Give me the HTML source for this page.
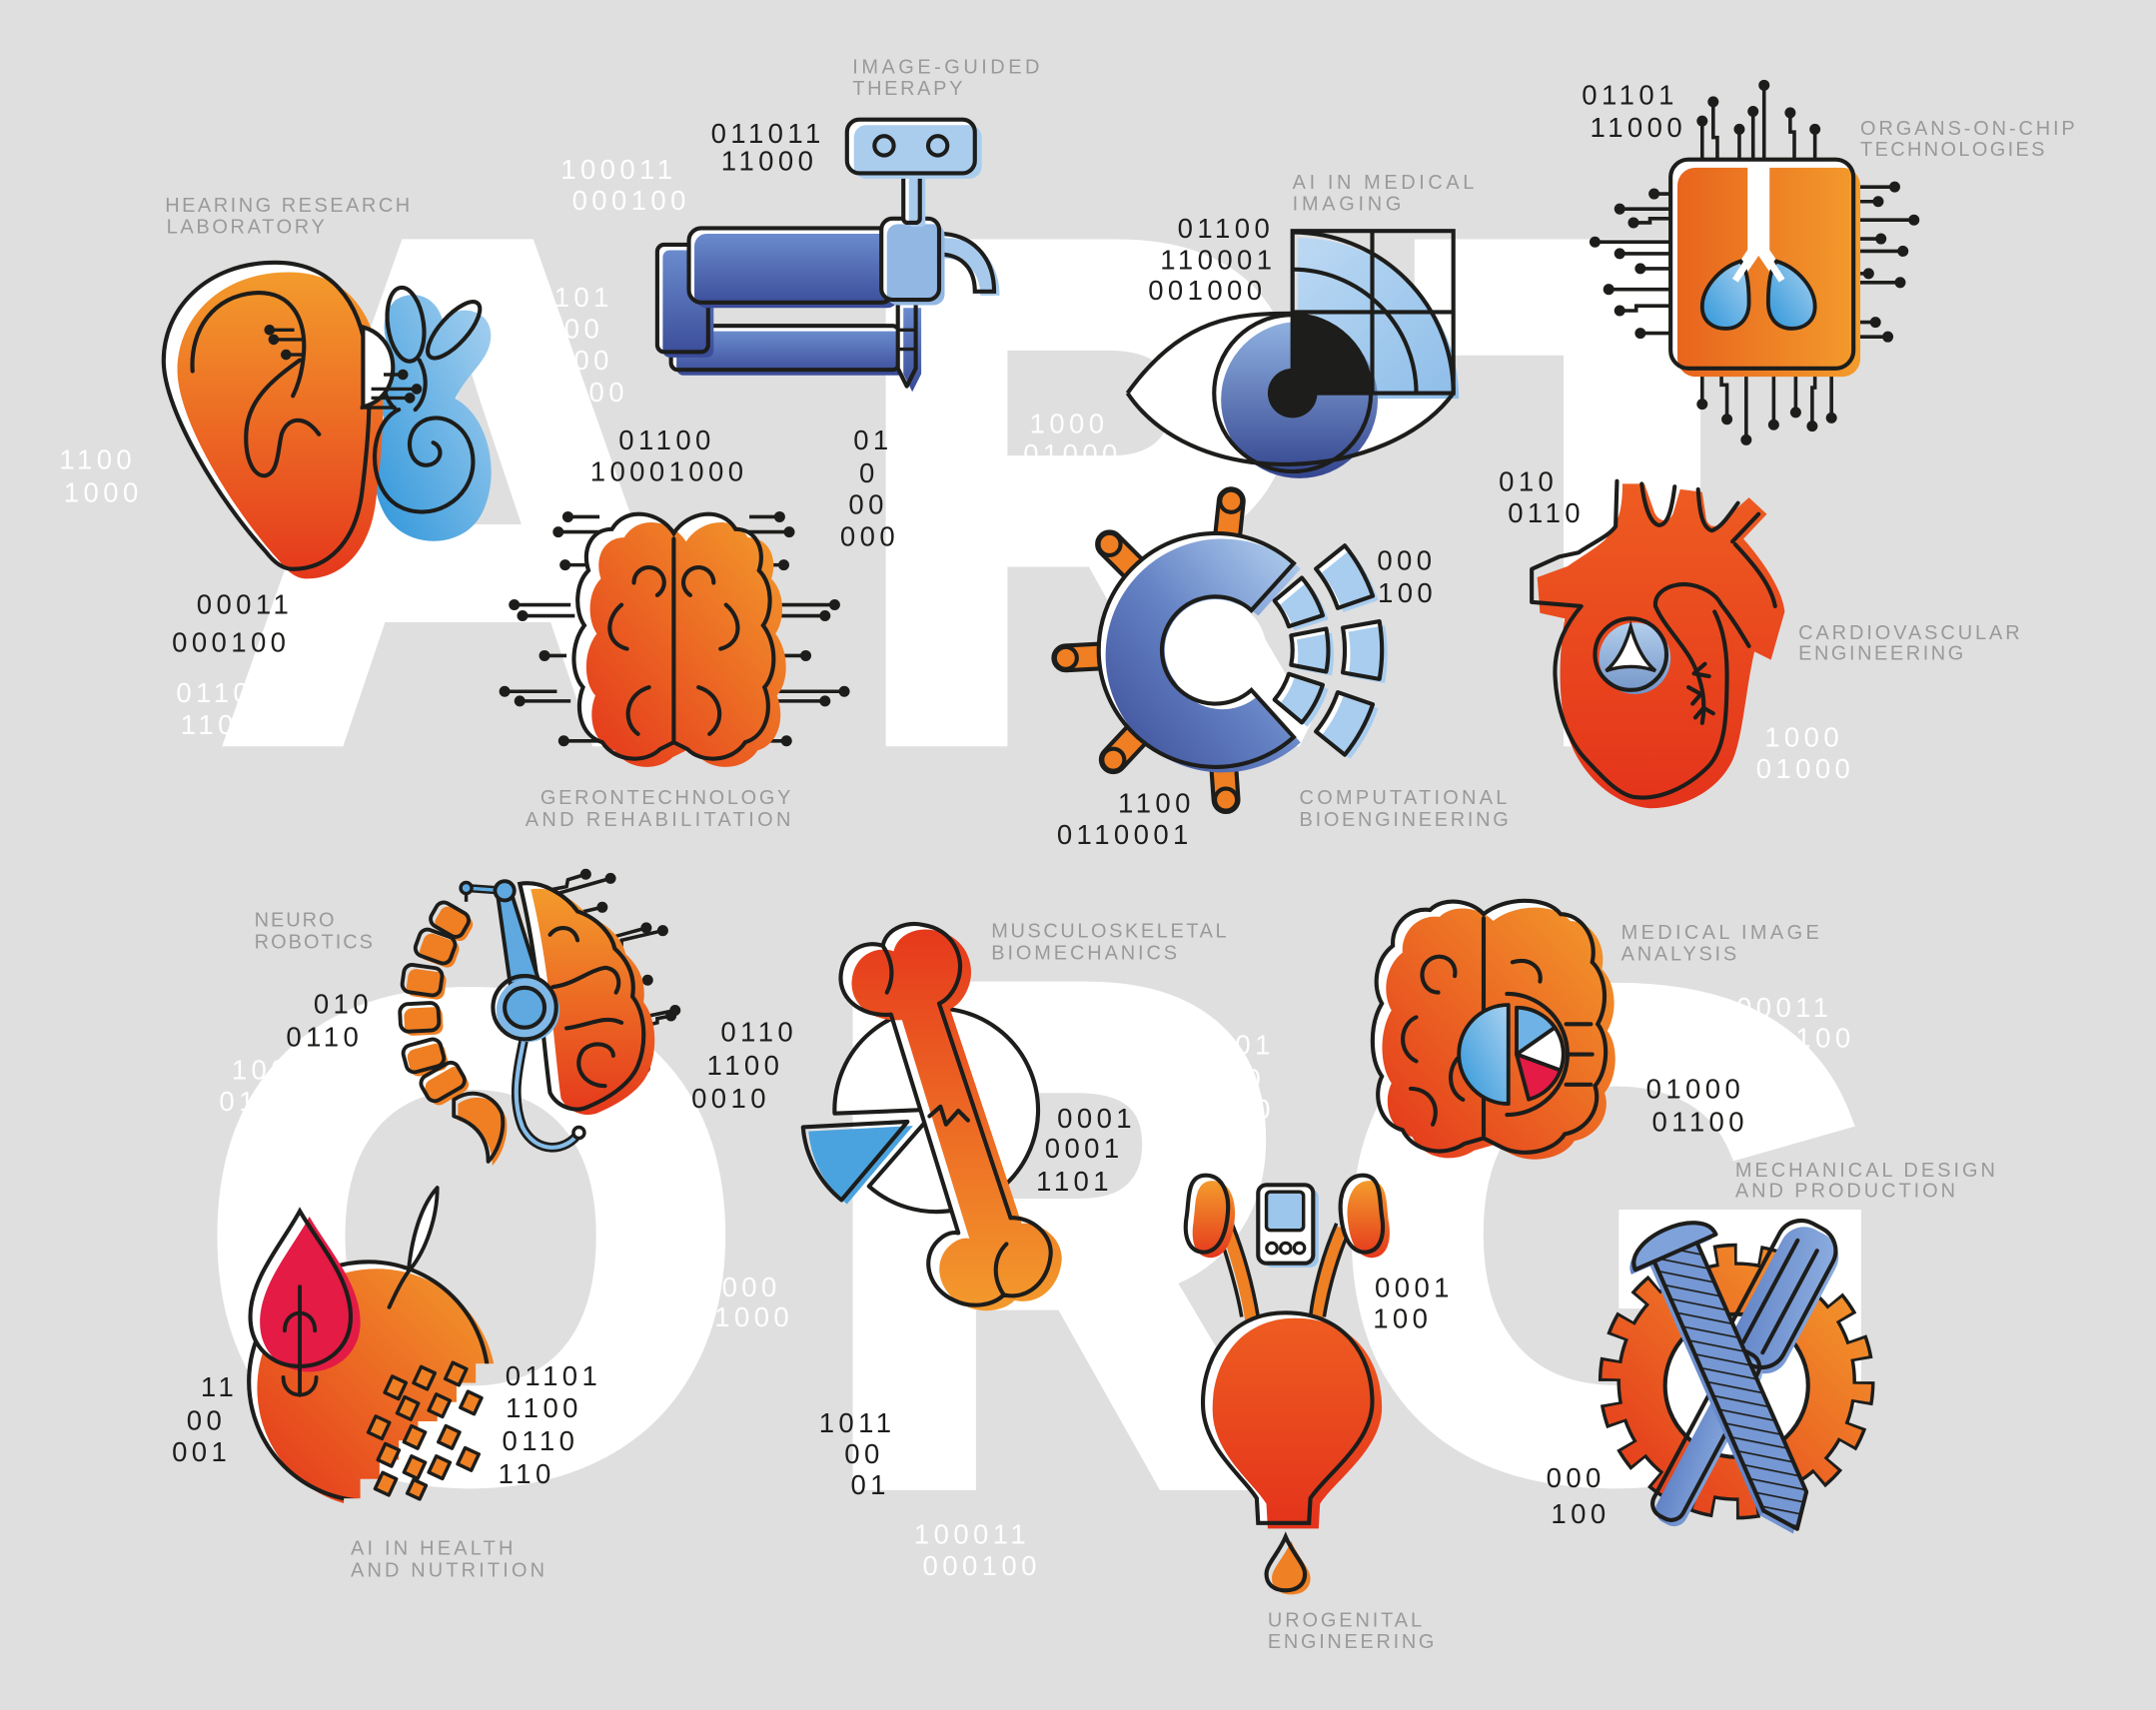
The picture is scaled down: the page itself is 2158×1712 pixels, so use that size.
<!DOCTYPE html>
<html><head><meta charset="utf-8">
<style>
html,body{margin:0;padding:0;background:#dfdfdf;}
svg{display:block}
.lb{font-family:"Liberation Sans",sans-serif;font-size:14.5px;fill:#9a9a9a;}
.d{font-family:"Liberation Sans",sans-serif;font-size:20px;fill:#1d1d1b;letter-spacing:3.2px;text-anchor:middle;}
.w{font-family:"Liberation Sans",sans-serif;font-size:20px;fill:#ffffff;letter-spacing:3.2px;text-anchor:middle;}
.e{text-anchor:end;}
</style></head>
<body>
<svg width="2158" height="1712" viewBox="0 0 1568 1244" xmlns="http://www.w3.org/2000/svg">
<defs>
<linearGradient id="gOr" x1="0" y1="0" x2="0" y2="1"><stop offset="0" stop-color="#f39b2c"/><stop offset="1" stop-color="#e5381c"/></linearGradient>
<linearGradient id="gOrD" x1="1" y1="0" x2="0" y2="1"><stop offset="0" stop-color="#f39b2c"/><stop offset="1" stop-color="#e4351b"/></linearGradient>
<linearGradient id="gOrH" x1="0" y1="0" x2="1" y2="0"><stop offset="0" stop-color="#e8641d"/><stop offset="1" stop-color="#f39c2c"/></linearGradient>
<linearGradient id="gRed" x1="0" y1="0" x2="0" y2="1"><stop offset="0" stop-color="#ee5c21"/><stop offset="1" stop-color="#e4331b"/></linearGradient>
<linearGradient id="gBone" x1="0" y1="0" x2="0" y2="1"><stop offset="0" stop-color="#e6391c"/><stop offset="1" stop-color="#f39a2c"/></linearGradient>
<linearGradient id="gDB" x1="0" y1="0" x2="0" y2="1"><stop offset="0" stop-color="#6a8bcd"/><stop offset="1" stop-color="#3a4b98"/></linearGradient>
<linearGradient id="gDBd" x1="1" y1="0" x2="0" y2="1"><stop offset="0" stop-color="#b5d3f1"/><stop offset="0.5" stop-color="#6482c4"/><stop offset="1" stop-color="#3a4a95"/></linearGradient>
<linearGradient id="gIris" x1="0" y1="0" x2="0" y2="1"><stop offset="0" stop-color="#8fb0e0"/><stop offset="1" stop-color="#34458f"/></linearGradient>
<linearGradient id="gValve" x1="0" y1="0" x2="0" y2="1"><stop offset="0" stop-color="#b3cfec"/><stop offset="1" stop-color="#7394c8"/></linearGradient>
<linearGradient id="gLB" x1="0" y1="0" x2="1" y2="1"><stop offset="0" stop-color="#bcd9f3"/><stop offset="1" stop-color="#8dbde9"/></linearGradient>
<linearGradient id="gCy" x1="0" y1="1" x2="1" y2="0"><stop offset="0" stop-color="#2f96da"/><stop offset="1" stop-color="#a8d1f0"/></linearGradient>
<linearGradient id="gTool" x1="0" y1="0" x2="1" y2="1"><stop offset="0" stop-color="#8fb1e2"/><stop offset="1" stop-color="#5f80c4"/></linearGradient>
<pattern id="hatch" width="9" height="9" patternUnits="userSpaceOnUse" patternTransform="rotate(35)">
<rect width="9" height="9" fill="#7597d3"/><line x1="0" y1="0" x2="0" y2="9" stroke="#1d1d1b" stroke-width="2.4"/></pattern>
<clipPath id="appleClip"><polygon points="150,850 380,850 380,992 346,992 346,1006 332,1006 332,1020 318,1020 318,1034 304,1034 304,1048 290,1048 290,1062 276,1062 276,1076 262,1076 262,1090 250,1090 250,1110 150,1110"/></clipPath>

<path id="ear" d="M200,191 C150,191 118,225 119,264 C120,300 160,365 193,401 C200,410 206,414 213,414 C238,414 258,395 263,360 C268,320 270,290 267,261 C262,218 240,191 200,191 Z"/>
<path id="br1" d="M490,388 C480,372 455,368 445,385 C430,385 423,400 428,415 C418,425 418,445 425,455 C415,468 415,490 424,500 C418,515 422,535 438,540 C448,555 470,555 480,545 L490,540 L500,545 C510,555 532,555 542,540 C558,535 562,515 556,500 C565,490 565,468 555,455 C562,445 562,425 552,415 C557,400 550,385 535,385 C525,368 500,372 490,388 Z"/>
<rect id="dv1" x="488" y="237" width="166" height="32" rx="5"/>
<polygon id="dv4" points="653,220 666,220 666,268 659.5,281 653,268"/>
<rect id="dv2" x="478" y="178" width="37" height="78" rx="5"/>
<rect id="dv3" x="501" y="166" width="149" height="54" rx="9"/>
<rect id="dv5" x="641" y="159" width="42" height="59" rx="8"/>
<path id="dv6" d="M683,170 C706,170 723,186 723,212 L709,212 C709,195 699,185 683,185 Z"/>
<rect id="dv7" x="657" y="125" width="12" height="37" rx="3"/>
<rect id="dv8" x="616" y="87" width="93" height="39" rx="9"/>
<rect id="chip" x="1215" y="116" width="133" height="152" rx="13"/>
<path id="heart" d="M1180,352 L1196,352 L1203,372 C1206,380 1214,381 1217,373 L1222,356 L1238,358 L1241,378 C1244,386 1252,383 1256,376 L1272,362 L1285,374 L1268,392 C1282,408 1296,428 1298,445 L1288,480 L1276,474 C1270,500 1268,530 1262,548 C1255,570 1230,588 1200,588 C1175,586 1152,566 1142,540 C1133,515 1133,480 1138,450 L1120,446 L1118,420 L1140,412 C1150,405 1162,398 1168,392 C1178,380 1180,368 1180,352 Z"/>
<path id="cring" d="M940.9,409.8 A85,85 0 1 0 940.9,536.2 L910.1,502 A39,39 0 1 1 910.1,444 Z"/>
<g id="segs">
<path d="M946.8,420.3 A82,82 0 0 1 962,447.7 L937.3,455.7 A56,56 0 0 0 926.9,437 Z"/>
<path d="M964.5,457.4 A82,82 0 0 1 964.5,488.6 L939,483.7 A56,56 0 0 0 939,462.3 Z"/>
<path d="M962,498.3 A82,82 0 0 1 946.8,525.7 L926.9,509 A56,56 0 0 0 937.3,490.3 Z"/>
<path d="M978,396.9 A121,121 0 0 1 998.4,433.6 L972.9,442.4 A94,94 0 0 0 957,413.8 Z"/>
<path d="M1003.2,452 A121,121 0 0 1 1003.2,494 L976.6,489.3 A94,94 0 0 0 976.6,456.7 Z"/>
<path d="M998.4,512.4 A121,121 0 0 1 978,549.1 L957,532.2 A94,94 0 0 0 972.9,503.6 Z"/>
</g>
<path id="nbrain" d="M378,643 C395,640 412,652 420,663 C435,668 445,680 447,690 C458,700 462,712 460,725 C470,738 470,760 464,775 C458,790 440,800 428,805 C418,810 405,805 400,795 C395,760 392,700 378,643 Z"/>
<path id="bone" d="M648,738 C625,740 608,725 612,706 C615,690 630,684 642,688 C645,675 660,670 672,673 C692,676 702,695 697,712 C694,722 688,728 683,730 L735,886 C750,885 766,898 764,914 C762,932 748,946 730,942 C722,950 706,952 694,946 C676,938 670,918 680,905 C686,898 692,896 697,897 Z"/>
<path id="mbrain" d="M1079,665 C1070,655 1050,652 1040,662 C1025,660 1012,672 1013,688 C1000,698 998,718 1005,730 C996,745 996,770 1005,783 C998,798 1004,818 1020,822 C1028,838 1050,842 1065,832 L1079,828 L1093,835 C1108,842 1130,838 1138,825 C1155,822 1165,805 1160,790 C1170,778 1170,755 1162,745 C1170,730 1168,710 1158,700 C1162,682 1150,665 1135,665 C1125,652 1095,652 1079,665 Z"/>
<path id="drop" d="M218,881 C205,905 182,930 182,958 C182,980 198,994 218,994 C238,994 255,980 255,958 C255,930 232,905 218,881 Z"/>
<path id="kidL" d="M877,855 C890,855 894,870 893,882 C892,895 888,910 876,911 C863,911 861,897 863,885 C865,872 863,855 877,855 Z"/>
<path id="kidR" d="M991,855 C978,855 974,870 975,882 C976,895 980,910 992,911 C1005,911 1007,897 1005,885 C1003,872 1005,855 991,855 Z"/>
<path id="blad" d="M935,955 C893,955 873,990 875,1025 C877,1055 905,1075 914,1090 L915,1108 L952,1108 L953,1090 C965,1072 998,1050 998,1020 C998,985 977,955 935,955 Z"/>
<path id="udrop" d="M935,1118 C930,1130 921,1138 921,1145 C921,1153 927,1157 935,1157 C943,1157 949,1153 949,1145 C949,1138 940,1130 935,1118 Z"/>
</defs>

<rect width="1568" height="1244" fill="#dfdfdf"/>

<!-- big letters -->
<g font-family="Liberation Sans, sans-serif" font-weight="bold" font-size="1000" fill="#ffffff" stroke="#ffffff" stroke-linejoin="miter" stroke-miterlimit="2">
<text transform="translate(159.7,535.3) scale(0.5,0.514)" stroke-width="30">A</text>
<text transform="translate(625.1,530.5) scale(0.456,0.5)" stroke-width="50">R</text>
<text transform="translate(1037.9,528.2) scale(0.488,0.4933)" stroke-width="60">T</text>
<text transform="translate(147.4,1068.4) scale(0.503,0.488)" stroke-width="40">O</text>
<text transform="translate(600.8,1071.5) scale(0.462,0.5014)" stroke-width="50">R</text>
<text transform="translate(972,1068.3) scale(0.5186,0.492)" stroke-width="40">G</text>
</g>

<!-- white digits -->
<g>
<text class="w" x="450" y="130">100011</text>
<text class="w" x="459" y="152.7">000100</text>
<text class="w e" x="446" y="223">01101</text>
<text class="w e" x="439" y="246">000</text>
<text class="w e" x="446" y="269">000</text>
<text class="w e" x="457" y="292">000</text>
<text class="w" x="71" y="341">1100</text>
<text class="w" x="75" y="365">1000</text>
<text class="w" x="156" y="511">0110</text>
<text class="w" x="152" y="534">110</text>
<text class="w" x="777.5" y="315">1000</text>
<text class="w" x="780" y="337">01000</text>
<text class="w" x="1312" y="543">1000</text>
<text class="w" x="1313" y="566">01000</text>
<text class="w" x="197" y="785">1000</text>
<text class="w" x="188" y="808">0100</text>
<text class="w e" x="927" y="767">01101</text>
<text class="w e" x="920" y="791.5">000</text>
<text class="w e" x="927" y="814">00</text>
<text class="w e" x="1333" y="739.6">100011</text>
<text class="w e" x="1349" y="762">000100</text>
<text class="w e" x="568" y="943">1000</text>
<text class="w e" x="577" y="965">01000</text>
<text class="w" x="707" y="1123">100011</text>
<text class="w" x="714" y="1146">000100</text>
</g>

<!-- ===== EAR ===== -->
<path d="M283,214 C298,205 314,214 317,230 C326,216 352,220 352,240 C352,258 334,268 326,286 C352,300 360,345 344,372 C330,395 292,396 276,372 C262,350 266,318 274,300 C268,282 268,258 276,244 C272,232 276,220 283,214 Z" fill="url(#gCy)" transform="translate(5,4)"/>
<use href="#ear" fill="#ffffff"/>
<use href="#ear" fill="url(#gOr)" x="10" y="7"/>
<g fill="none" stroke="#1d1d1b" stroke-width="3" stroke-linecap="round">
<use href="#ear"/>
<path d="M140,270 C138,240 155,215 186,213 C212,212 222,232 221,255 C220,272 216,282 213,288"/>
<path d="M218,262 C200,275 180,290 179,315 C178,335 185,347 193,346 C203,344 202,325 205,315 C210,303 222,302 232,316"/>
<ellipse cx="295" cy="236" rx="13" ry="27" transform="rotate(-8 295 236)"/>
<ellipse cx="330" cy="240" rx="10" ry="26" transform="rotate(42 330 240)"/>
<path d="M283,258 C276,272 278,290 288,298"/>
<path d="M305,262 C312,275 310,290 302,298"/>
<path d="M290,298 C268,308 266,352 288,367 C312,382 344,364 344,336 C344,310 320,297 305,308 C292,318 298,342 313,338 C322,335 322,325 315,322"/>
</g>
<path d="M264,238 C293,246 293,289 264,296 Z" fill="#ffffff" stroke="#1d1d1b" stroke-width="3"/>
<g stroke="#1d1d1b" stroke-width="2.5" fill="#1d1d1b">
<path d="M196,240 L214,240 M199,247 L222,247 M208,258 L222,258 M279,272.5 L293,272.5 M270,283 L303,283 M270,289.5 L298,289.5 M262,296.5 L288,296.5" fill="none"/>
<circle cx="196" cy="240" r="2.6"/><circle cx="199" cy="247" r="2.6"/><circle cx="208" cy="258" r="2.6"/>
<circle cx="293" cy="272.5" r="2.6"/><circle cx="303" cy="283" r="2.6"/><circle cx="298" cy="289.5" r="2.6"/>
</g>

<!-- ===== GERONTECH BRAIN ===== -->
<g stroke="#1d1d1b" stroke-width="2.6" fill="#1d1d1b">
<path fill="none" d="M413,376 L436,376 M406,387 L447,387 M411,411 L429,411 M374,440 L415,440 M380,448 L418,448 M396,477 L412,477 M367,503 L405,503 M378,510 L415,510 M410,539 L441,539 M545,376 L567,376 M535,387 L574,387 M546,411 L570,411 M566,440 L607,440 M566,448 L600,448 M570,477 L586,477 M566,503 L614,503 M566,510 L600,510 M538,539 L572,539"/>
<circle cx="413" cy="376" r="2.7"/><circle cx="406" cy="387" r="2.7"/><circle cx="411" cy="411" r="2.7"/><circle cx="374" cy="440" r="2.7"/><circle cx="380" cy="448" r="2.7"/><circle cx="396" cy="477" r="2.7"/><circle cx="367" cy="503" r="2.7"/><circle cx="378" cy="510" r="2.7"/><circle cx="410" cy="539" r="2.7"/>
<circle cx="567" cy="376" r="2.7"/><circle cx="574" cy="387" r="2.7"/><circle cx="570" cy="411" r="2.7"/><circle cx="607" cy="440" r="2.7"/><circle cx="600" cy="448" r="2.7"/><circle cx="586" cy="477" r="2.7"/><circle cx="614" cy="503" r="2.7"/><circle cx="600" cy="510" r="2.7"/><circle cx="572" cy="539" r="2.7"/>
</g>
<use href="#br1" fill="#ffffff"/>
<use href="#br1" fill="url(#gOrD)" x="9" y="6"/>
<g fill="none" stroke="#1d1d1b" stroke-width="3" stroke-linecap="round">
<use href="#br1"/>
<path d="M490,392 L490,540"/>
<path d="M478,433 A11,11 0 1 0 461,424"/>
<path d="M502,433 A11,11 0 1 1 519,424"/>
<path d="M452,440 C440,450 440,468 456,472"/>
<path d="M528,440 C540,450 540,468 524,472"/>
<path d="M472,500 C455,505 452,525 464,534"/>
<path d="M508,500 C525,505 528,525 516,534"/>
</g>

<!-- ===== DEVICE ===== -->
<use href="#dv1" fill="#ffffff"/><use href="#dv1" fill="url(#gDB)" x="4" y="4"/><use href="#dv1" fill="none" stroke="#1d1d1b" stroke-width="3"/>
<use href="#dv4" fill="#ffffff"/><use href="#dv4" fill="url(#gDB)" x="4" y="4"/><use href="#dv4" fill="none" stroke="#1d1d1b" stroke-width="3" stroke-linejoin="round"/>
<path d="M653,240 L666,240 M653,254 L666,254" stroke="#1d1d1b" stroke-width="2.5"/>
<use href="#dv2" fill="#ffffff"/><use href="#dv2" fill="url(#gDB)" x="4" y="4"/><use href="#dv2" fill="none" stroke="#1d1d1b" stroke-width="3"/>
<use href="#dv3" fill="#ffffff"/><use href="#dv3" fill="url(#gDB)" x="4" y="4"/><use href="#dv3" fill="none" stroke="#1d1d1b" stroke-width="3"/>
<use href="#dv6" fill="#ffffff"/><use href="#dv6" fill="#a7caec" x="4" y="3"/><use href="#dv6" fill="none" stroke="#1d1d1b" stroke-width="3"/>
<use href="#dv5" fill="#ffffff"/><use href="#dv5" fill="#93b7e3" x="4" y="4"/><use href="#dv5" fill="none" stroke="#1d1d1b" stroke-width="3"/>
<use href="#dv7" fill="#ffffff"/><use href="#dv7" fill="#a7caec" x="4" y="3"/><use href="#dv7" fill="none" stroke="#1d1d1b" stroke-width="3"/>
<use href="#dv8" fill="#ffffff"/><use href="#dv8" fill="#aacdee" x="5" y="4"/><use href="#dv8" fill="none" stroke="#1d1d1b" stroke-width="3"/>
<circle cx="643" cy="106" r="7" fill="none" stroke="#1d1d1b" stroke-width="3"/>
<circle cx="682" cy="106" r="7" fill="none" stroke="#1d1d1b" stroke-width="3"/>

<!-- ===== EYE ===== -->
<path d="M820,286 C860,230 900,228 940,228 L940,286 L1057,286 C1010,350 870,360 820,286 Z" fill="#ffffff"/>
<path d="M940,286 L940,169 A117,117 0 0 1 1057,286 Z" fill="url(#gLB)" transform="translate(4,4)"/>
<circle cx="945" cy="291" r="57" fill="url(#gIris)"/>
<g fill="none" stroke="#1d1d1b" stroke-width="3">
<rect x="940" y="168" width="117" height="118"/>
<path d="M998,168 L998,286 M940,227 L1057,227"/>
<path d="M940,169 A117,117 0 0 1 1057,286"/>
<path d="M940,196 A90,90 0 0 1 1030,286"/>
<circle cx="940" cy="286" r="57"/>
<path d="M820,286 C860,230 900,228 940,228"/>
<path d="M820,286 C870,360 1010,350 1057,286"/>
</g>
<path d="M940,286 L940,228 A58,58 0 0 1 998,286 Z" fill="#1d1d1b"/>
<circle cx="940" cy="286" r="18" fill="#1d1d1b"/>

<!-- ===== CHIP ===== -->
<g stroke="#1d1d1b" stroke-width="2.6" fill="#1d1d1b">
<path fill="none" d="M1238,117 V88 M1249,117 V100 H1246 V74 M1265,117 V94 M1275,117 V81 M1283,117 V62 M1305,117 V96 H1302 V82 M1320,117 V94 M1238,268 V294 M1252,268 V280 H1256 V305 M1270,268 V320 M1290,268 V309 M1306,268 V300 M1320,268 V282 H1318 V310 M1332,268 V304 M1215,141 H1203 M1215,152 H1178 M1215,159 H1200 V162 H1188 M1215,176 H1160 M1215,184.5 H1178 M1215,195.4 H1193 M1215,210.5 H1170 M1215,222.5 H1190 V226 H1178 M1215,242.4 H1193 M1348,136 H1378 M1348,146.6 H1366 M1348,160 H1392 M1348,173.7 H1368 M1348,182.7 H1384 M1348,199 H1359 M1348,205.5 H1382 M1348,234.4 H1364 M1348,245 H1373"/>
<circle cx="1238" cy="88" r="2.7"/><circle cx="1246" cy="74" r="2.7"/><circle cx="1265" cy="94" r="2.7"/><circle cx="1275" cy="81" r="2.7"/><circle cx="1283" cy="62" r="2.7"/><circle cx="1302" cy="82" r="2.7"/><circle cx="1320" cy="94" r="2.7"/>
<circle cx="1238" cy="294" r="2.7"/><circle cx="1256" cy="305" r="2.7"/><circle cx="1270" cy="320" r="2.7"/><circle cx="1290" cy="309" r="2.7"/><circle cx="1306" cy="300" r="2.7"/><circle cx="1318" cy="310" r="2.7"/><circle cx="1332" cy="304" r="2.7"/>
<circle cx="1203" cy="141" r="2.7"/><circle cx="1178" cy="152" r="2.7"/><circle cx="1188" cy="162" r="2.7"/><circle cx="1160" cy="176" r="2.7"/><circle cx="1178" cy="184.5" r="2.7"/><circle cx="1193" cy="195.4" r="2.7"/><circle cx="1170" cy="210.5" r="2.7"/><circle cx="1178" cy="226" r="2.7"/><circle cx="1193" cy="242.4" r="2.7"/>
<circle cx="1378" cy="136" r="2.7"/><circle cx="1366" cy="146.6" r="2.7"/><circle cx="1392" cy="160" r="2.7"/><circle cx="1368" cy="173.7" r="2.7"/><circle cx="1384" cy="182.7" r="2.7"/><circle cx="1359" cy="199" r="2.7"/><circle cx="1382" cy="205.5" r="2.7"/><circle cx="1364" cy="234.4" r="2.7"/><circle cx="1373" cy="245" r="2.7"/>
</g>
<use href="#chip" fill="#ffffff"/>
<use href="#chip" fill="url(#gOrH)" x="5" y="6"/>
<use href="#chip" fill="none" stroke="#1d1d1b" stroke-width="3"/>
<rect x="1271" y="119" width="16" height="64" fill="#ffffff"/>
<path d="M1279,178 L1260,206 M1279,178 L1298,206" stroke="#ffffff" stroke-width="9" fill="none"/>
<g stroke="#1d1d1b" stroke-width="2.8">
<path d="M1266,190 C1250,195 1238,210 1238,223 C1238,234 1246,239 1255,239 C1265,239 1272,232 1272,220 C1272,205 1270,195 1266,190 Z" fill="url(#gCy)"/>
<path d="M1292,190 C1308,195 1320,210 1320,223 C1320,234 1312,239 1303,239 C1293,239 1286,232 1286,220 C1286,205 1288,195 1292,190 Z" fill="url(#gCy)"/>
</g>
<path d="M1279,178 L1262,204 M1279,178 L1296,204" stroke="#ffffff" stroke-width="5" fill="none"/>

<!-- ===== HEART ===== -->
<use href="#heart" fill="url(#gRed)"/>
<g fill="none" stroke="#1d1d1b" stroke-width="3" stroke-linecap="round" stroke-linejoin="round">
<path d="M1176,350 L1175,383 C1170,390 1160,394 1148,402 L1134,405 L1114,414 L1114,438 L1150,441 C1138,455 1130,472 1131,492 C1132,515 1140,538 1153,552 C1166,566 1178,579 1190,580 C1208,582 1228,572 1242,558 C1255,545 1256,520 1256,490 C1256,470 1252,455 1247,445"/>
<path d="M1204,441 C1203,432 1212,425 1226,425 C1238,426 1248,432 1252,440 C1260,450 1266,460 1272,470"/>
<path d="M1262,396 C1275,410 1288,425 1291,441"/>
<path d="M1260,394 L1279,374"/>
<path d="M1194,352 C1196,368 1200,380 1206,382 C1213,383 1216,370 1218,354"/>
<path d="M1235,356 C1236,372 1238,384 1245,386 C1252,384 1258,374 1264,366"/>
<path d="M1204,441 C1210,455 1222,466 1230,480 C1238,495 1241,510 1238,526"/>
<path d="M1232,490 L1240,483 M1232,490 L1243,492 M1237,505 L1228,500 M1237,505 L1231,512 M1239,515 L1233,522 M1239,515 L1246,519"/>
</g>
<circle cx="1189" cy="479" r="26" fill="url(#gValve)"/>
<circle cx="1186" cy="476" r="26" fill="none" stroke="#1d1d1b" stroke-width="3"/>
<path d="M1186,456 Q1192,478 1204,488 Q1186,482 1168,488 Q1180,478 1186,456 Z" fill="#ffffff" stroke="#1d1d1b" stroke-width="2.5"/>

<!-- ===== C GEAR ===== -->
<g stroke="#1d1d1b" stroke-width="3" fill="#ef7f22">
<g transform="translate(884,473) rotate(-84)"><rect x="76" y="-9" width="42" height="18" rx="9"/><circle cx="109" cy="0" r="8"/></g>
<g transform="translate(884,473) rotate(-135)"><rect x="76" y="-9" width="42" height="18" rx="9"/><circle cx="109" cy="0" r="8"/></g>
<g transform="translate(884,473) rotate(177)"><rect x="76" y="-9" width="42" height="18" rx="9"/><circle cx="109" cy="0" r="8"/></g>
<g transform="translate(884,473) rotate(133)"><rect x="76" y="-9" width="42" height="18" rx="9"/><circle cx="109" cy="0" r="8"/></g>
<g transform="translate(884,473) rotate(86)"><rect x="76" y="-9" width="42" height="18" rx="9"/><circle cx="109" cy="0" r="8"/></g>
</g>
<use href="#cring" fill="#ffffff"/>
<use href="#cring" fill="url(#gDBd)" x="5" y="4"/>
<use href="#cring" fill="none" stroke="#1d1d1b" stroke-width="3"/>
<circle cx="884" cy="473" r="37" fill="#ffffff"/>
<use href="#segs" fill="#ffffff"/>
<use href="#segs" fill="#a9cdef" x="4" y="3"/>
<use href="#segs" fill="none" stroke="#1d1d1b" stroke-width="3" stroke-linejoin="round"/>

<!-- ===== NEURO ROBOTICS ===== -->
<g fill="#ef7f22">
<rect x="317" y="662.5" width="26" height="19" rx="6" transform="rotate(30 330 672)"/>
<rect x="306" y="681.5" width="27" height="20" rx="6" transform="rotate(20 319.5 691.5)"/>
<rect x="296" y="706" width="28" height="20" rx="6" transform="rotate(8 310 716)"/>
<rect x="294" y="733" width="28" height="20" rx="6" transform="rotate(-3 308 743)"/>
<rect x="297" y="761" width="28" height="20" rx="6" transform="rotate(-15 311 771)"/>
<rect x="310" y="780" width="30" height="20" rx="6" transform="rotate(-30 325 790)"/>
<path d="M333,803 C348,793 363,801 368,813 C371,828 363,843 358,848 C358,833 351,821 333,815 Z"/>
</g>
<g fill="none" stroke="#1d1d1b" stroke-width="2.8" stroke-linejoin="round">
<rect x="314" y="659.5" width="26" height="19" rx="6" transform="rotate(30 327 669)"/>
<rect x="303" y="678.5" width="27" height="20" rx="6" transform="rotate(20 316.5 688.5)"/>
<rect x="293" y="703" width="28" height="20" rx="6" transform="rotate(8 307 713)"/>
<rect x="291" y="730" width="28" height="20" rx="6" transform="rotate(-3 305 740)"/>
<rect x="294" y="758" width="28" height="20" rx="6" transform="rotate(-15 308 768)"/>
<rect x="307" y="777" width="30" height="20" rx="6" transform="rotate(-30 322 787)"/>
<path d="M330,800 C345,790 360,798 365,810 C368,825 360,840 355,845 C355,830 348,818 330,812 Z"/>
</g>
<g stroke="#1d1d1b" stroke-width="2.6" fill="#1d1d1b">
<path fill="none" d="M402,647 L412,645 L413,640 L426,636 M402,651 L444,639 M421,664 L438,660 M441,683 L470,675 M444,690 L452,688 L452,684 L482,677 M453,718 L471,713 M467,740 L491,735 M470,746 L478,744 L478,741 L488,739 M451,781 L469,777"/>
<circle cx="426" cy="636" r="2.7"/><circle cx="444" cy="639" r="2.7"/><circle cx="438" cy="660" r="2.7"/><circle cx="470" cy="675" r="2.7"/><circle cx="482" cy="677" r="2.7"/><circle cx="471" cy="713" r="2.7"/><circle cx="491" cy="735" r="2.7"/><circle cx="488" cy="739" r="2.7"/><circle cx="469" cy="777" r="2.7"/>
</g>
<use href="#nbrain" fill="#ffffff"/>
<use href="#nbrain" fill="url(#gOr)" x="8" y="4"/>
<g fill="none" stroke="#1d1d1b" stroke-width="3" stroke-linecap="round">
<use href="#nbrain"/>
<path d="M400,680 C406,672 418,674 420,684"/>
<path d="M402,718 C418,716 428,706 440,704 C450,705 452,715 448,722"/>
<path d="M412,748 C428,746 440,738 452,744"/>
<path d="M440,790 C424,790 416,775 424,764 C432,756 446,760 446,768"/>
</g>
<path d="M381,756 C376,780 372,800 380,820 C390,840 412,838 421,824" fill="none" stroke="#1d1d1b" stroke-width="7" stroke-linecap="round"/>
<path d="M381,756 C376,780 372,800 380,820 C390,840 412,838 421,824" fill="none" stroke="#86bde8" stroke-width="3" stroke-linecap="round"/>
<circle cx="421" cy="824" r="4" fill="#ffffff" stroke="#1d1d1b" stroke-width="2.5"/>
<path d="M339,646 L367,648" stroke="#1d1d1b" stroke-width="6"/>
<path d="M339,646 L367,648" stroke="#5fa9e0" stroke-width="2.5"/>
<path d="M339,646 L339,656" stroke="#1d1d1b" stroke-width="2.5"/>
<path d="M362,652 L372,650 L392,714 L371,716 Z" fill="#5fa9e0" stroke="#1d1d1b" stroke-width="2.8" stroke-linejoin="round"/>
<circle cx="339" cy="646" r="4" fill="#5fa9e0" stroke="#1d1d1b" stroke-width="2.5"/>
<circle cx="367" cy="648" r="7" fill="#5fa9e0" stroke="#1d1d1b" stroke-width="2.8"/>
<circle cx="384" cy="735" r="23" fill="#7fb8e6"/>
<circle cx="381.5" cy="733" r="23" fill="none" stroke="#1d1d1b" stroke-width="3"/>
<circle cx="381.5" cy="733" r="14.5" fill="#5fa9e0" stroke="#1d1d1b" stroke-width="3"/>

<!-- ===== BONE + PIE ===== -->
<path d="M681,807 L607,810 A74,74 0 1 1 632,863 Z" fill="#ffffff" stroke="#1d1d1b" stroke-width="3" stroke-linejoin="round"/>
<path d="M664,819 L588,823 A76,76 0 0 0 616,876 Z" fill="#4aa3df"/>
<path d="M660,816 L584,820 A76,76 0 0 0 612,873 Z" fill="none" stroke="#1d1d1b" stroke-width="3" stroke-linejoin="round"/>
<use href="#bone" fill="#ffffff"/>
<use href="#bone" fill="url(#gBone)" x="8" y="4"/>
<g fill="none" stroke="#1d1d1b" stroke-width="3" stroke-linecap="round" stroke-linejoin="round">
<use href="#bone"/>
<path d="M642,688 C650,700 650,712 645,722"/>
<path d="M730,942 C722,930 722,915 732,905"/>
<path d="M676,812 L684,805 L688,818 L697,808 L704,815"/>
</g>

<!-- ===== MEDICAL IMAGE BRAIN ===== -->
<use href="#mbrain" fill="#ffffff"/>
<use href="#mbrain" fill="url(#gOrD)" x="7" y="5"/>
<g fill="none" stroke="#1d1d1b" stroke-width="3" stroke-linecap="round">
<use href="#mbrain"/>
<path d="M1079,668 L1079,826"/>
<path d="M1046,722 C1034,722 1030,705 1040,698 C1050,692 1060,700 1058,710"/>
<path d="M1030,740 C1018,745 1016,765 1030,772"/>
<path d="M1026,792 C1040,792 1048,805 1042,818"/>
<path d="M1060,770 C1052,780 1054,795 1064,800"/>
<path d="M1096,723 A44,44 0 0 1 1096,811"/>
<path d="M1139,745 L1157,745 M1140,767 L1158,767 M1139,789 L1157,789"/>
<path d="M1100,700 C1112,696 1122,704 1120,714"/>
</g>
<g stroke="#1d1d1b" stroke-width="2.8" stroke-linejoin="round">
<path d="M1097,731 A36,36 0 0 0 1097,803 Z" fill="url(#gCy)"/>
<path d="M1103,767 L1103,733 A34,34 0 0 1 1130.9,747.5 Z" fill="#6fb3e6"/>
<path d="M1103,767 L1130.9,747.5 A34,34 0 0 1 1134.9,778.6 Z" fill="#ffffff"/>
<path d="M1103,767 L1134.9,778.6 A34,34 0 0 1 1111.8,799.8 Z" fill="#e31b45"/>
</g>

<!-- ===== APPLE ===== -->
<g clip-path="url(#appleClip)">
<circle cx="268" cy="1005" r="87" fill="#ffffff"/>
<circle cx="274" cy="1010" r="87" fill="url(#gOrD)"/>
<circle cx="268" cy="1005" r="87" fill="none" stroke="#1d1d1b" stroke-width="3"/>
</g>
<g stroke="#1d1d1b" stroke-width="2.5" fill="#ef8024" stroke-linejoin="round">
<rect x="282" y="1003" width="11" height="13" transform="rotate(25 287.5 1009.5)"/>
<rect x="303" y="996" width="11" height="13" transform="rotate(25 308.5 1002.5)"/>
<rect x="326" y="993" width="11" height="13" transform="rotate(25 331.5 999.5)"/>
<rect x="337" y="1014" width="11" height="13" transform="rotate(25 342.5 1020.5)"/>
<rect x="314" y="1016" width="11" height="13" transform="rotate(25 319.5 1022.5)"/>
<rect x="291" y="1018" width="11" height="13" transform="rotate(25 296.5 1024.5)"/>
<rect x="270" y="1032" width="11" height="13" transform="rotate(25 275.5 1038.5)"/>
<rect x="296" y="1039" width="11" height="13" transform="rotate(25 301.5 1045.5)"/>
<rect x="321" y="1039" width="11" height="13" transform="rotate(25 326.5 1045.5)"/>
<rect x="335" y="1055" width="11" height="13" transform="rotate(25 340.5 1061.5)"/>
<rect x="314" y="1061" width="11" height="13" transform="rotate(25 319.5 1067.5)"/>
<rect x="296" y="1061" width="11" height="13" transform="rotate(25 301.5 1067.5)"/>
<rect x="277" y="1052" width="11" height="13" transform="rotate(25 282.5 1058.5)"/>
<rect x="275" y="1073" width="11" height="13" transform="rotate(25 280.5 1079.5)"/>
<rect x="298" y="1078" width="10" height="11" transform="rotate(25 303 1083.5)"/>
</g>
<path d="M297,925 C300,895 308,875 318,864 C318,885 310,910 297,925 Z" fill="#ffffff" stroke="#1d1d1b" stroke-width="2.8" stroke-linejoin="round"/>
<path d="M283,951 C288,940 292,932 297,925" fill="none" stroke="#1d1d1b" stroke-width="2.8" stroke-linecap="round"/>
<use href="#drop" fill="#ffffff"/>
<use href="#drop" fill="#e31b45" x="7" y="4"/>
<use href="#drop" fill="none" stroke="#1d1d1b" stroke-width="3"/>
<g fill="none" stroke="#1d1d1b" stroke-width="2.8" stroke-linecap="round">
<path d="M218,936 L218,1015"/>
<path d="M207,968 C207,951 229,951 229,968"/>
<path d="M206,1002 C206,1019 230,1019 230,1002"/>
</g>

<!-- ===== UROGENITAL ===== -->
<path d="M892,893 C900,915 907,940 910,960 M975,893 C967,915 961,940 958,960" fill="none" stroke="#ef8024" stroke-width="9"/>
<g fill="none" stroke="#1d1d1b" stroke-width="2.6">
<path d="M887,898 C894,920 900,940 903,958 M896,890 C906,915 912,940 915,958"/>
<path d="M980,898 C971,920 966,940 963,958 M972,890 C961,915 955,940 953,958"/>
</g>
<use href="#kidL" fill="#ffffff"/><use href="#kidL" fill="url(#gOr)" x="5" y="4"/><use href="#kidL" fill="none" stroke="#1d1d1b" stroke-width="3"/>
<use href="#kidR" fill="#ffffff"/><use href="#kidR" fill="url(#gOr)" x="5" y="4"/><use href="#kidR" fill="none" stroke="#1d1d1b" stroke-width="3"/>
<rect x="919" y="865" width="40" height="57" rx="6" fill="#9cc6ec"/>
<rect x="915" y="862" width="40" height="57" rx="6" fill="#ffffff" stroke="#1d1d1b" stroke-width="3"/>
<rect x="921" y="867" width="27" height="28" rx="3" fill="#9cc6ec" stroke="#1d1d1b" stroke-width="2.5"/>
<g fill="none" stroke="#1d1d1b" stroke-width="2.3"><circle cx="925" cy="908" r="3.8"/><circle cx="935" cy="908" r="3.8"/><circle cx="945" cy="908" r="3.8"/></g>
<use href="#blad" fill="#ffffff"/>
<use href="#blad" fill="url(#gRed)" x="7" y="4"/>
<use href="#blad" fill="none" stroke="#1d1d1b" stroke-width="3"/>
<use href="#udrop" fill="#ef8024" x="4" y="3"/>
<use href="#udrop" fill="none" stroke="#1d1d1b" stroke-width="3"/>

<!-- ===== GEAR + TOOLS ===== -->
<circle cx="1263" cy="1005" r="91" fill="none" stroke="#1d1d1b" stroke-width="19" stroke-dasharray="16 15.77"/>
<circle cx="1263" cy="1005" r="87" fill="#1d1d1b"/>
<circle cx="1263" cy="1005" r="91" fill="none" stroke="url(#gOrD)" stroke-width="14" stroke-dasharray="12 19.77" stroke-dashoffset="-2"/>
<circle cx="1263" cy="1005" r="84.5" fill="url(#gOrD)"/>
<circle cx="1263" cy="1008" r="52" fill="#ffffff" stroke="#1d1d1b" stroke-width="3"/>
<g transform="translate(1322,892) rotate(118.1)">
<g fill="url(#gTool)" transform="translate(3,-4)"><rect x="0" y="-22" width="112" height="44" rx="18"/><rect x="105" y="-12" width="135" height="24" rx="10"/></g>
<g fill="none" stroke="#1d1d1b" stroke-width="3"><rect x="0" y="-22" width="112" height="44" rx="18"/><rect x="105" y="-12" width="135" height="24" rx="10"/>
<path d="M16,-8 L100,-8 M16,8 L100,8" stroke-linecap="round"/></g>
</g>
<g transform="translate(1213,898) rotate(66.3)">
<g fill="url(#gTool)" transform="translate(2,4)"><rect x="12" y="-17" width="200" height="34"/><polygon points="212,-17 234,0 212,17"/><path d="M14,-32 C-10,-32 -10,32 14,32 Z"/></g>
<rect x="12" y="-17" width="200" height="34" fill="url(#hatch)"/>
<polygon points="212,-17 234,0 212,17" fill="url(#hatch)"/>
<g fill="none" stroke="#1d1d1b" stroke-width="3" stroke-linejoin="round">
<path d="M12,-17 L212,-17 L234,0 L212,17 L12,17"/>
<path d="M14,-32 C-10,-32 -10,32 14,32 Z" fill="#7fa2da"/>
</g>
</g>

<!-- black digits -->
<g>
<text class="d" x="558.5" y="104">011011</text>
<text class="d" x="559.5" y="124">11000</text>
<text class="d" x="1185.5" y="76">01101</text>
<text class="d" x="1191.5" y="99.5">11000</text>
<text class="d" x="891.5" y="173">01100</text>
<text class="d" x="886" y="196">110001</text>
<text class="d" x="878" y="218">001000</text>
<text class="d" x="178" y="446.5">00011</text>
<text class="d" x="168" y="474">000100</text>
<text class="d" x="485" y="327">01100</text>
<text class="d" x="486.5" y="350">10001000</text>
<text class="d" x="635" y="327">01</text>
<text class="d" x="632" y="351">0</text>
<text class="d" x="631.5" y="374">00</text>
<text class="d" x="632.5" y="397">000</text>
<text class="d" x="1111.5" y="357">010</text>
<text class="d" x="1124.5" y="380">0110</text>
<text class="d" x="1023" y="414.5">000</text>
<text class="d" x="1023.5" y="438">100</text>
<text class="d" x="841" y="591">1100</text>
<text class="d" x="818" y="614">0110001</text>
<text class="d" x="249.5" y="737">010</text>
<text class="d" x="236" y="761">0110</text>
<text class="d" x="552" y="757.5">0110</text>
<text class="d" x="542" y="782">1100</text>
<text class="d" x="531.5" y="806">0010</text>
<text class="d" x="797.5" y="820.5">0001</text>
<text class="d" x="788.5" y="842">0001</text>
<text class="d" x="781.5" y="866">1101</text>
<text class="d" x="1233" y="799">01000</text>
<text class="d" x="1236.5" y="823">01100</text>
<text class="d" x="1028.5" y="943.5">0001</text>
<text class="d" x="1020" y="966">100</text>
<text class="d" x="159.5" y="1016">11</text>
<text class="d" x="150" y="1040">00</text>
<text class="d" x="146.5" y="1063">001</text>
<text class="d" x="402.5" y="1008">01101</text>
<text class="d" x="395.6" y="1031">1100</text>
<text class="d" x="393" y="1055">0110</text>
<text class="d" x="383" y="1079">110</text>
<text class="d" x="623.5" y="1042">1011</text>
<text class="d" x="628.5" y="1064.5">00</text>
<text class="d" x="633" y="1087">01</text>
<text class="d" x="1146" y="1082">000</text>
<text class="d" x="1149.5" y="1108">100</text>
</g>

<!-- labels -->
<g class="lb">
<text class="lb" x="120" y="154" textLength="178">HEARING RESEARCH</text>
<text class="lb" x="121" y="169.5" textLength="115">LABORATORY</text>
<text class="lb" x="620" y="53.5" textLength="136">IMAGE-GUIDED</text>
<text class="lb" x="620" y="69" textLength="80">THERAPY</text>
<text class="lb" x="940" y="137.5" textLength="132">AI IN MEDICAL</text>
<text class="lb" x="940" y="153" textLength="79">IMAGING</text>
<text class="lb" x="1353" y="98" textLength="156">ORGANS-ON-CHIP</text>
<text class="lb" x="1353" y="113.5" textLength="134">TECHNOLOGIES</text>
<text class="lb" x="1308" y="465" textLength="161">CARDIOVASCULAR</text>
<text class="lb" x="1308" y="480" textLength="120">ENGINEERING</text>
<text class="lb" x="393" y="585" textLength="182">GERONTECHNOLOGY</text>
<text class="lb" x="382" y="601" textLength="193">AND REHABILITATION</text>
<text class="lb" x="945" y="585" textLength="151">COMPUTATIONAL</text>
<text class="lb" x="945" y="601" textLength="152">BIOENGINEERING</text>
<text class="lb" x="185" y="674" textLength="58">NEURO</text>
<text class="lb" x="185" y="690" textLength="86">ROBOTICS</text>
<text class="lb" x="721" y="682" textLength="171">MUSCULOSKELETAL</text>
<text class="lb" x="721" y="698" textLength="135">BIOMECHANICS</text>
<text class="lb" x="1179" y="683" textLength="144">MEDICAL IMAGE</text>
<text class="lb" x="1179" y="698.5" textLength="84">ANALYSIS</text>
<text class="lb" x="1262" y="856" textLength="189">MECHANICAL DESIGN</text>
<text class="lb" x="1262" y="871" textLength="160">AND PRODUCTION</text>
<text class="lb" x="255" y="1131" textLength="118">AI IN HEALTH</text>
<text class="lb" x="255" y="1147" textLength="141">AND NUTRITION</text>
<text class="lb" x="922" y="1183.5" textLength="112">UROGENITAL</text>
<text class="lb" x="922" y="1199" textLength="121">ENGINEERING</text>
</g>
</svg>
</body></html>
